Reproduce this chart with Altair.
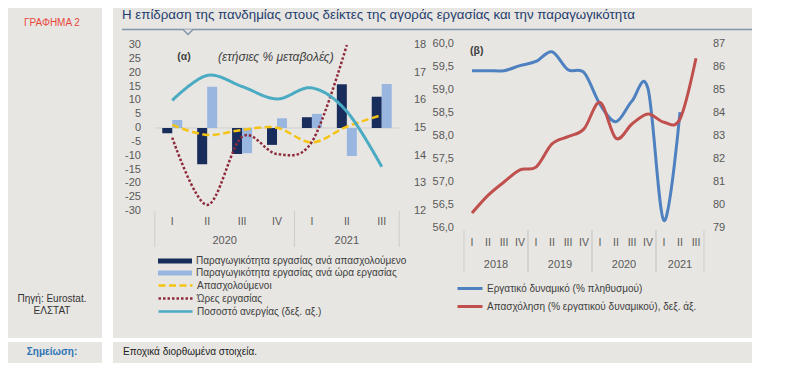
import altair as alt
import pandas as pd

# ---------------- data ----------------
# Panel (α): annual % changes, 2020Q1-2021Q3
quarters_a = ["I", "II", "III", "IV", "I", "II", "III"]
quarter_years_a = ["2020", "2020", "2020", "2020", "2021", "2021", "2021"]
prod_per_employee = [-1.9, -13.1, -9.4, -6.1, 3.9, 15.8, 11.3]
prod_per_hour = [2.9, 14.9, -9.1, 3.5, 5.1, -10.1, 15.9]
employed = [1.1, -2.5, -0.7, 0.1, -5.2, 0.5, 4.7]
hours_worked = [-3.5, -27.8, -3.2, -9.4, -5.0, 30.0, None]
unemployment_rate = [16.0, 16.9, 16.5, 16.05, 16.45, 15.6, 13.6]

# Panel (β): levels, 2018Q1-2021Q3
quarters_b = ["I", "II", "III", "IV", "I", "II", "III", "IV",
              "I", "II", "III", "IV", "I", "II", "III"]
quarter_years_b = ["2018"] * 4 + ["2019"] * 4 + ["2020"] * 4 + ["2021"] * 3
labour_force = [59.42, 59.42, 59.42, 59.53, 59.62, 59.83, 59.44, 59.38,
                58.69, 58.31, 58.76, 59.03, 56.16, 58.52, None]
employment = [79.65, 80.42, 81.0, 81.53, 81.65, 82.66, 82.97, 83.31,
              84.46, 82.9, 83.52, 83.96, 83.6, 83.74, 86.38]

# tick labels
ticks_a_left = [-30, -25, -20, -15, -10, -5, 0, 5, 10, 15, 20, 25, 30]
ticks_a_right = [12, 13, 14, 15, 16, 17, 18]
ticks_b_left = [56.0, 56.5, 57.0, 57.5, 58.0, 58.5, 59.0, 59.5, 60.0]
ticks_b_right = [79, 80, 81, 82, 83, 84, 85, 86, 87]

bar_names = ["Παραγωγικότητα εργασίας ανά απασχολούμενο",
             "Παραγωγικότητα εργασίας ανά ώρα εργασίας"]
line_names = ["Απασχολούμενοι", "Ώρες εργασίας", "Ποσοστό ανεργίας (δεξ. αξ.)"]
b_names = ["Εργατικό δυναμικό (% πληθυσμού)",
           "Απασχόληση (% εργατικού δυναμικού), δεξ. άξ."]

# ---------------- styles ----------------
FONT = "Liberation Sans, Arial, sans-serif"
BG = "#e7e6e2"
AXC = "#595959"
TXT = "#404040"
NAVY, LIGHT = "#182d5b", "#99b6e0"
YELLOW, MAROON, TEAL = "#f5c313", "#8e2b3b", "#4aabc3"
BLUE, RED = "#4f81c0", "#c0504d"
HEAD = "#8094aa"

one = pd.DataFrame({"k": [0]})


def txt(text, x, y, size=10, color=TXT, align="left", weight="normal", style="normal",
        baseline="middle"):
    return alt.Chart(pd.DataFrame({"t": [text]})).mark_text(
        align=align, baseline=baseline, font=FONT, fontSize=size, color=color,
        fontWeight=weight, fontStyle=style).encode(
        x=alt.value(x), y=alt.value(y), text="t:N")


def box(x0, x1, y0, y1, color=BG):
    return alt.Chart(one).mark_rect(color=color).encode(
        x=alt.value(x0), x2=alt.value(x1), y=alt.value(y0), y2=alt.value(y1))


def tick_labels(values, scale, x, align, comma=False):
    labs = [(f"{v:.1f}".replace(".", ",") if comma else str(v)) for v in values]
    df = pd.DataFrame({"v": values, "lab": labs})
    return alt.Chart(df).mark_text(
        align=align, baseline="middle", font=FONT, fontSize=11, color=AXC).encode(
        x=alt.value(x), y=alt.Y("v:Q", scale=scale, axis=None), text="lab:N")


# ---------------- scales ----------------
xa = alt.Scale(domain=[-0.5, 6.5], range=[141.8, 396.2], nice=False, zero=False)
ya_l = alt.Scale(domain=[-30, 30], range=[203, 37], nice=False, zero=False)
ya_r = alt.Scale(domain=[12, 18], range=[203, 37], nice=False, zero=False)
xb = alt.Scale(domain=[-0.5, 14.5], range=[456, 696], nice=False, zero=False)
yb_l = alt.Scale(domain=[56, 60], range=[220, 36], nice=False, zero=False)
yb_r = alt.Scale(domain=[79, 87], range=[220, 36], nice=False, zero=False)

# ---------------- panel (α) ----------------
ia = list(range(len(quarters_a)))
dfa = pd.DataFrame({"i": ia, "q": quarters_a, "year": quarter_years_a})
bar_df0 = pd.DataFrame({"i": ia, "value": prod_per_employee, "series": bar_names[0]})
bar_df1 = pd.DataFrame({"i": ia, "value": prod_per_hour, "series": bar_names[1]})
line_df = pd.concat([
    pd.DataFrame({"i": ia, "value": employed, "series": line_names[0]}),
    pd.DataFrame({"i": ia, "value": hours_worked, "series": line_names[1]}),
])
teal_df = pd.DataFrame({"i": ia, "value": unemployment_rate, "series": line_names[2]})

bar_fill = alt.Scale(domain=bar_names, range=[NAVY, LIGHT])
bar_legend = alt.Legend(orient="none", legendX=162, legendY=248, title=None,
                        symbolType="M-4.25,-0.6L4.25,-0.6L4.25,0.6L-4.25,0.6Z",
                        symbolSize=64, symbolStrokeWidth=0, symbolOpacity=1,
                        labelFont=FONT, labelFontSize=10, labelColor=TXT, labelLimit=500,
                        labelOffset=16, rowPadding=2, padding=0)
line_color = alt.Scale(domain=line_names, range=[YELLOW, MAROON, TEAL])
line_dash = alt.Scale(domain=line_names, range=[[7, 3.5], [2.5, 2], [1, 0]])
line_legend = alt.Legend(orient="none", legendX=162, legendY=272, title=None,
                         symbolType="M-4.25,0L4.25,0", symbolSize=64,
                         symbolStrokeWidth=2.5, symbolOpacity=1,
                         labelFont=FONT, labelFontSize=10, labelColor=TXT, labelLimit=500,
                         labelOffset=16, rowPadding=2, padding=0)

X_A = alt.X("i:Q", scale=xa, axis=None)

zero_line = alt.Chart(dfa).transform_aggregate(
    lo="min(i)", hi="max(i)").transform_calculate(
    a="datum.lo - 0.5", b="datum.hi + 0.5", z="0").mark_rule(
    color="#cfcfcf", strokeWidth=1).encode(
    x=alt.X("a:Q", scale=xa, axis=None), x2="b:Q",
    y=alt.Y("z:Q", scale=ya_l, axis=None))

sep_a = alt.Chart(dfa).transform_aggregate(
    lo="min(i)", hi="max(i)", groupby=["year"]).transform_calculate(
    a="datum.lo - 0.5", b="datum.hi + 0.5").transform_fold(
    ["a", "b"], as_=["k", "pos"]).mark_rule(color="#cdcdcd", strokeWidth=1).encode(
    x=alt.X("pos:Q", scale=xa, axis=None), y=alt.value(203), y2=alt.value(239))

bars0 = alt.Chart(bar_df0).mark_bar(width=10, xOffset=-5).encode(
    x=X_A,
    y=alt.Y("value:Q", scale=ya_l, axis=None),
    y2=alt.datum(0),
    fill=alt.Fill("series:N", scale=bar_fill, legend=bar_legend))
bars1 = alt.Chart(bar_df1).mark_bar(width=10, xOffset=5).encode(
    x=X_A,
    y=alt.Y("value:Q", scale=ya_l, axis=None),
    y2=alt.datum(0),
    fill=alt.Fill("series:N", scale=bar_fill, legend=bar_legend))

lines_a = alt.Chart(line_df).mark_line(strokeWidth=2.5, interpolate="cardinal").encode(
    x=X_A,
    y=alt.Y("value:Q", scale=ya_l, axis=None),
    color=alt.Color("series:N", scale=line_color, legend=line_legend),
    strokeDash=alt.StrokeDash("series:N", scale=line_dash, legend=line_legend))
teal = alt.Chart(teal_df).mark_line(strokeWidth=3, interpolate="cardinal").encode(
    x=X_A,
    y=alt.Y("value:Q", scale=ya_r, axis=None),
    color=alt.Color("series:N", scale=line_color, legend=line_legend),
    strokeDash=alt.StrokeDash("series:N", scale=line_dash, legend=line_legend))

qlab_a = alt.Chart(dfa).mark_text(font=FONT, fontSize=10.5, color=AXC).encode(
    x=X_A, y=alt.value(214), text="q:N")
ylab_a = alt.Chart(dfa).transform_aggregate(c="mean(i)", groupby=["year"]).mark_text(
    font=FONT, fontSize=11, color=AXC).encode(
    x=alt.X("c:Q", scale=xa, axis=None), y=alt.value(233), text="year:N")

alpha = alt.layer(
    zero_line, sep_a, bars0, bars1, lines_a, teal, qlab_a, ylab_a,
    tick_labels(ticks_a_left, ya_l, 133, "right"),
    tick_labels(ticks_a_right, ya_r, 406, "left"),
).resolve_scale(y="independent")

# ---------------- panel (β) ----------------
ib = list(range(len(quarters_b)))
dfb = pd.DataFrame({"i": ib, "q": quarters_b, "year": quarter_years_b})
blue_df = pd.DataFrame({"i": ib, "value": labour_force, "series": b_names[0]})
red_df = pd.DataFrame({"i": ib, "value": employment, "series": b_names[1]})

b_color = alt.Scale(domain=b_names, range=[BLUE, RED])
b_legend = alt.Legend(orient="none", legendX=456.5, legendY=275, title=None,
                      symbolType="M-3.125,0L3.125,0", symbolSize=64,
                      symbolStrokeWidth=3, symbolOpacity=1,
                      labelFont=FONT, labelFontSize=10, labelColor=TXT, labelLimit=500,
                      labelOffset=11.5, rowPadding=5, padding=0)
X_B = alt.X("i:Q", scale=xb, axis=None)

blue = alt.Chart(blue_df).mark_line(strokeWidth=3, interpolate="cardinal").encode(
    x=X_B,
    y=alt.Y("value:Q", scale=yb_l, axis=None),
    color=alt.Color("series:N", scale=b_color, legend=b_legend))
red = alt.Chart(red_df).mark_line(strokeWidth=3, interpolate="cardinal").encode(
    x=X_B,
    y=alt.Y("value:Q", scale=yb_r, axis=None),
    color=alt.Color("series:N", scale=b_color, legend=b_legend))

sep_b = alt.Chart(dfb).transform_aggregate(
    lo="min(i)", hi="max(i)", groupby=["year"]).transform_calculate(
    a="datum.lo - 0.5", b="datum.hi + 0.5").transform_fold(
    ["a", "b"], as_=["k", "pos"]).mark_rule(color="#cdcdcd", strokeWidth=1).encode(
    x=alt.X("pos:Q", scale=xb, axis=None), y=alt.value(222), y2=alt.value(264))
qlab_b = alt.Chart(dfb).mark_text(font=FONT, fontSize=10.5, color=AXC).encode(
    x=X_B, y=alt.value(235), text="q:N")
ylab_b = alt.Chart(dfb).transform_aggregate(c="mean(i)", groupby=["year"]).mark_text(
    font=FONT, fontSize=11, color=AXC).encode(
    x=alt.X("c:Q", scale=xb, axis=None), y=alt.value(257), text="year:N")

beta = alt.layer(
    sep_b, blue, red, qlab_b, ylab_b,
    tick_labels(ticks_b_left, yb_l, 446, "right", comma=True),
    tick_labels(ticks_b_right, yb_r, 705, "left"),
).resolve_scale(y="independent")

# ---------------- frame & texts ----------------
header_rule = alt.Chart(one).mark_rule(color=HEAD, strokeWidth=1.5).encode(
    x=alt.value(114), x2=alt.value(744), y=alt.value(21.5))
notch = alt.Chart(one).mark_point(
    shape="M-1,-0.5L0,0.5L1,-0.5", size=100, filled=True, fill=BG, stroke=HEAD,
    strokeWidth=1.5, opacity=1).encode(x=alt.value(180), y=alt.value(24))

decor = [
    box(0, 94, 0, 330), box(105, 744, 0, 330),
    box(0, 94, 334, 355), box(105, 744, 334, 355),
    header_rule, notch,
    txt("ΓΡΑΦΗΜΑ 2", 44, 15, size=10, color="#e8463d", align="center"),
    txt("Η επίδραση της πανδημίας στους δείκτες της αγοράς εργασίας και την παραγωγικότητα",
        114, 10.5, size=13.3, color="#1f3c6e", baseline="alphabetic"),
    txt("(α)", 176, 49, size=10.5, align="center", weight="bold"),
    txt("(ετήσιες % μεταβολές)", 210, 49, size=12, style="italic"),
    txt("(β)", 462, 43, size=10.5, weight="bold"),
    txt("Πηγή: Eurostat.", 44, 291, size=10, color="#333333", align="center"),
    txt("ΕΛΣΤΑΤ", 44, 303, size=10, color="#333333", align="center"),
    txt("Σημείωση:", 44, 344, size=10, color="#2e74b5", align="center", weight="bold"),
    txt("Εποχικά διορθωμένα στοιχεία.", 115, 344, size=10, color="#222222"),
]

chart = alt.layer(*decor, alpha, beta).resolve_scale(
    x="independent", y="independent", color="independent", fill="independent",
    strokeDash="independent").properties(
    width=771, height=356, autosize=alt.AutoSizeParams(type="none"), padding=0,
    background="white").configure_view(stroke=None)

chart.save("out.html", embed_options={"renderer": "svg", "actions": False})
